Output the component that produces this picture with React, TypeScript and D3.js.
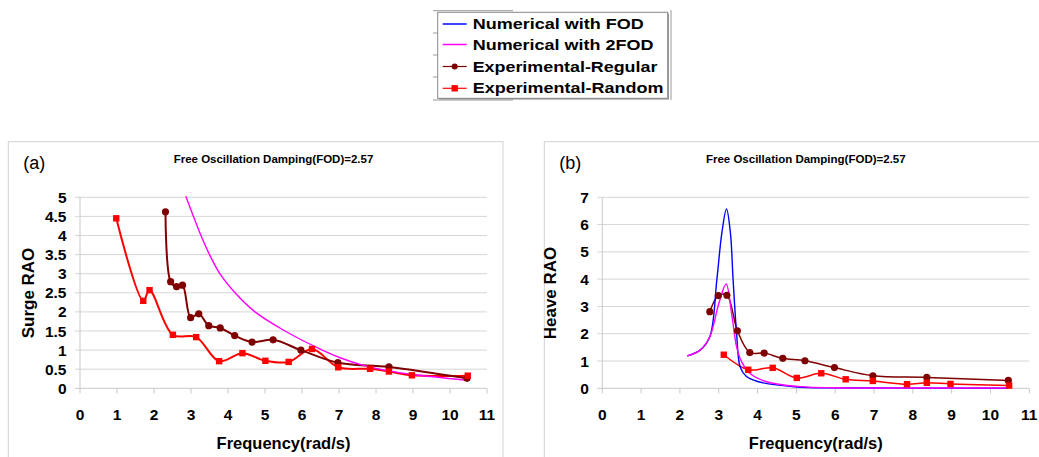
import React from "react";
import * as d3 from "d3";

type P = [number, number];

// Tick labels
const surgeTicks = [0, 0.5, 1, 1.5, 2, 2.5, 3, 3.5, 4, 4.5, 5];
const heaveTicks = [0, 1, 2, 3, 4, 5, 6, 7];
const freqTicks = [0, 1, 2, 3, 4, 5, 6, 7, 8, 9, 10, 11];

// Surge (a)
const surgeRegular: P[] = [
  [2.31, 4.62], [2.45, 2.79], [2.61, 2.66], [2.77, 2.7], [2.99, 1.85], [3.21, 1.95],
  [3.48, 1.64], [3.79, 1.58], [4.18, 1.38], [4.65, 1.21], [5.22, 1.27], [5.97, 1.0],
  [6.97, 0.67], [8.35, 0.56], [10.46, 0.26],
];
const surgeRandom: P[] = [
  [0.98, 4.45], [1.71, 2.29], [1.88, 2.57], [2.51, 1.4], [3.14, 1.34], [3.76, 0.71],
  [4.39, 0.92], [5.01, 0.72], [5.64, 0.69], [6.27, 1.03], [6.98, 0.55], [7.84, 0.51],
  [8.35, 0.44], [8.97, 0.34], [10.48, 0.33],
];
const surge2FOD: P[] = [
  [2.86, 5.03], [3.27, 4.0], [3.5, 3.5], [3.78, 3.0], [4.19, 2.5], [4.73, 2.0],
  [5.54, 1.5], [6.55, 1.0], [7.03, 0.8], [7.66, 0.6], [8.38, 0.45], [9.0, 0.36],
  [10.45, 0.21],
];

// Heave (b)
const heaveRegular: P[] = [
  [2.77, 2.81], [2.99, 3.4], [3.21, 3.41], [3.48, 2.11], [3.8, 1.31], [4.17, 1.29],
  [4.65, 1.1], [5.22, 1.01], [5.98, 0.76], [6.97, 0.46], [8.36, 0.4], [10.46, 0.29],
];
const heaveRandom: P[] = [
  [3.13, 1.23], [3.76, 0.68], [4.39, 0.75], [5.01, 0.38], [5.64, 0.55], [6.27, 0.33],
  [6.97, 0.27], [7.85, 0.15], [8.36, 0.2], [8.97, 0.16], [10.48, 0.1],
];
const heaveFOD: P[] = [
  [2.19, 1.19], [2.52, 1.4], [2.77, 1.89], [2.95, 3.97], [3.08, 5.7], [3.2, 6.57],
  [3.3, 5.7], [3.37, 3.97], [3.46, 2.01], [3.55, 0.79], [3.7, 0.45], [4.0, 0.25],
  [5.0, 0.05], [6.0, 0.02], [10.46, 0.0],
];
const heave2FOD: P[] = [
  [2.19, 1.19], [2.52, 1.4], [2.77, 1.89], [3.0, 3.1], [3.19, 3.82], [3.33, 2.75],
  [3.46, 1.52], [3.59, 0.97], [3.8, 0.55], [4.23, 0.24], [5.09, 0.06], [6.0, 0.02],
  [8.0, 0.01], [10.46, 0.01],
];

const legendLabels = [
  "Numerical with FOD",
  "Numerical with 2FOD",
  "Experimental-Regular",
  "Experimental-Random",
];
const legendWidths = [171, 180.7, 184.7, 190.7];

const C_BLUE = "#0000ff";
const C_MAG = "#ff00ff";
const C_DRED = "#7f0000";
const C_RED = "#ff0000";
const FONT = "'Liberation Sans', Arial, sans-serif";

interface PanelProps {
  label: string;
  yLabel: string;
  x0: number;
  x1: number;
  yTop: number;
  yMax: number;
  yTicks: number[];
  box: [number, number, number];
  regular: P[];
  random: P[];
  fod?: P[];
  fod2: P[];
  lw: number;
}

function Panel(p: PanelProps) {
  const xs = d3.scaleLinear().domain([0, 11]).range([p.x0, p.x1]);
  const ys = d3.scaleLinear().domain([0, p.yMax]).range([388.3, p.yTop]);
  const smooth = d3
    .line<P>()
    .x((d) => xs(d[0]))
    .y((d) => ys(d[1]))
    .curve(d3.curveCatmullRom.alpha(0.5));
  const midX = (p.x0 + p.x1) / 2;
  return (
    <g>
      <rect x={p.box[0]} y={141.7} width={p.box[1]} height={p.box[2]} fill="#fff" stroke="#d0d0d0" strokeWidth={1} />
      <text x={p.box[0] + 15} y={169} fontFamily={FONT} fontSize={18}>{p.label}</text>
      <text x={midX - 10} y={163} fontFamily={FONT} fontSize={11.5} fontWeight="bold" textAnchor="middle">
        Free Oscillation Damping(FOD)=2.57
      </text>
      {p.yTicks.map((t) => (
        <g key={t}>
          <line x1={p.x0 - 5} x2={p.x1} y1={ys(t)} y2={ys(t)} stroke={t === 0 ? "#c8c8c8" : "#d6d6d6"} strokeWidth={1} />
          <text x={p.x0 - 13.5} y={ys(t) + 5.5} fontFamily={FONT} fontSize={15.5} fontWeight="bold" textAnchor="end">
            {t}
          </text>
        </g>
      ))}
      <line x1={p.x0} x2={p.x0} y1={p.yTop} y2={388.3} stroke="#c8c8c8" />
      {freqTicks.map((t) => (
        <g key={t}>
          <line x1={xs(t)} x2={xs(t)} y1={388.3} y2={393.5} stroke="#c8c8c8" />
          <text x={xs(t)} y={419.5} fontFamily={FONT} fontSize={15.5} fontWeight="bold" textAnchor="middle">
            {t}
          </text>
        </g>
      ))}
      <text x={xs(5.5)} y={449} fontFamily={FONT} fontSize={16.5} fontWeight="bold" textAnchor="middle">
        Frequency(rad/s)
      </text>
      <text
        transform={`translate(${p.x0 - 46},293) rotate(-90)`}
        fontFamily={FONT}
        fontSize={17}
        fontWeight="bold"
        textAnchor="middle"
      >
        {p.yLabel}
      </text>
      <path d={smooth(p.random) || ""} fill="none" stroke={C_RED} strokeWidth={p.lw} />
      <path d={smooth(p.regular) || ""} fill="none" stroke={C_DRED} strokeWidth={p.lw} />
      {p.fod && <path d={smooth(p.fod) || ""} fill="none" stroke={C_BLUE} strokeWidth={1.4} />}
      <path d={smooth(p.fod2) || ""} fill="none" stroke={C_MAG} strokeWidth={1.4} />
      {p.regular.map((d, i) => (
        <circle key={"c" + i} cx={xs(d[0])} cy={ys(d[1])} r={3.6} fill={C_DRED} />
      ))}
      {p.random.map((d, i) => (
        <rect key={"r" + i} x={xs(d[0]) - 3.2} y={ys(d[1]) - 3.2} width={6.4} height={6.4} fill={C_RED} />
      ))}
    </g>
  );
}

export default function App() {
  const legendY = [24, 44.5, 66.5, 88.3];
  const legendColors = [C_BLUE, C_MAG, C_DRED, C_RED];
  return (
    <svg width={1039} height={457} style={{ position: "absolute", left: 0, top: 0, background: "#fff" }}>
      <rect width={1039} height={457} fill="#fff" />
      <Panel
        label="(a)"
        yLabel="Surge RAO"
        x0={80}
        x1={487}
        yTop={197.3}
        yMax={5}
        yTicks={surgeTicks}
        box={[8.3, 494.7, 330]}
        regular={surgeRegular}
        random={surgeRandom}
        fod2={surge2FOD}
        lw={2}
      />
      <Panel
        label="(b)"
        yLabel="Heave RAO"
        x0={602.3}
        x1={1029.3}
        yTop={197.3}
        yMax={7}
        yTicks={heaveTicks}
        box={[544.3, 520, 330]}
        regular={heaveRegular}
        random={heaveRandom}
        fod={heaveFOD}
        fod2={heave2FOD}
        lw={1.5}
      />
      {/* legend */}
      <g>
        <line x1={433} x2={513} y1={10.7} y2={10.7} stroke="#999" />
        <line x1={433} x2={513} y1={100} y2={100} stroke="#999" />
        <line x1={671} x2={671} y1={10} y2={100} stroke="#999" />
        {[33, 55, 77].map((y) => (
          <line key={y} x1={433} x2={437.7} y1={y} y2={y} stroke="#999" />
        ))}
        <rect x={439} y={13.6} width={230} height={86} fill="#9a9a9a" />
        <rect x={437.7} y={12.3} width={230} height={86} fill="#fff" stroke="#888" strokeWidth={1} />
        {legendLabels.map((l, i) => (
          <g key={l}>
            <line x1={442.7} x2={466.7} y1={legendY[i]} y2={legendY[i]} stroke={legendColors[i]} strokeWidth={i < 2 ? 1.5 : 1.2} />
            {i === 2 && <circle cx={454.7} cy={legendY[i]} r={3} fill={C_DRED} />}
            {i === 3 && <rect x={451.5} y={legendY[i] - 3.2} width={6.4} height={6.4} fill={C_RED} />}
            <text
              x={472.7}
              y={legendY[i] + 5}
              fontFamily={FONT}
              fontSize={14.5}
              fontWeight="bold"
              textLength={legendWidths[i]}
              lengthAdjust="spacingAndGlyphs"
            >
              {l}
            </text>
          </g>
        ))}
      </g>
    </svg>
  );
}
